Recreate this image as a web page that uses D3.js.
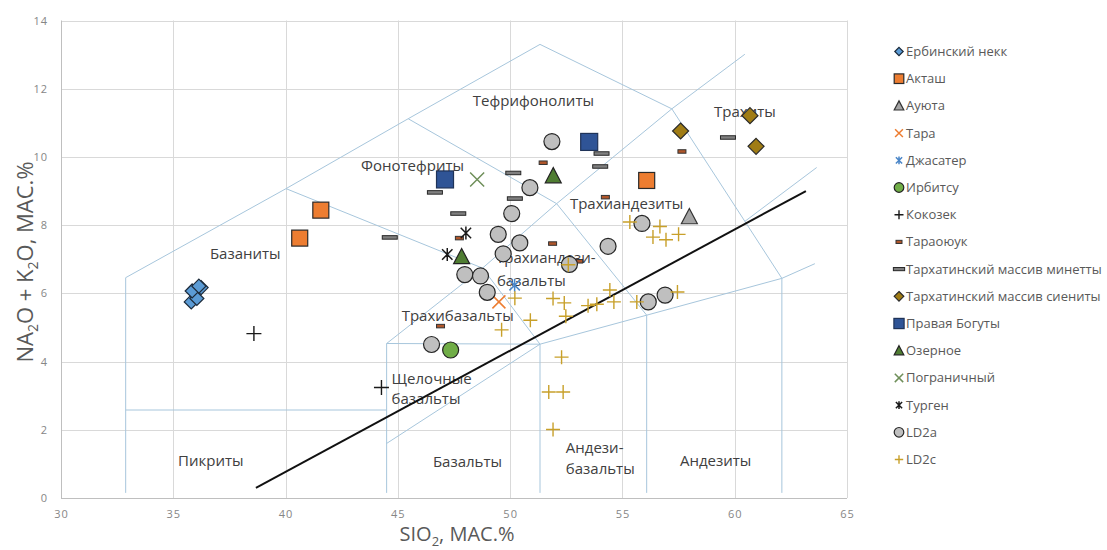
<!DOCTYPE html>
<html>
<head>
<meta charset="utf-8">
<script src="https://cdn.jsdelivr.net/npm/d3@7"></script>
<style>
  body { margin: 0; background: #fff; }
  svg { display: block; }
  text { font-family: 'Open Sans', 'Noto Sans', sans-serif; }
</style>
</head>
<body>
<svg id="chart" width="1107" height="550"></svg>
<script>
// ---- axis ticks ----
const xTicks = [30, 35, 40, 45, 50, 55, 60, 65];
const yTicks = [0, 2, 4, 6, 8, 10, 12, 14];

// ---- TAS classification field boundaries (SiO2, Na2O+K2O) ----
const fieldLines = [
  [[32.88, 0.15], [32.88, 6.46], [40.02, 9.07], [45.46, 11.12], [51.33, 13.30], [57.20, 11.41], [62.10, 6.44], [62.10, 0.15]],
  [[32.88, 2.58], [44.50, 2.58]],
  [[44.50, 0.15], [44.50, 4.53], [51.33, 4.51], [51.33, 0.15]],
  [[44.50, 1.60], [51.33, 4.51], [56.08, 5.36], [62.10, 6.44], [63.57, 6.87]],
  [[56.08, 0.15], [56.08, 5.36], [52.07, 8.63]],
  [[44.50, 4.53], [48.77, 6.74], [51.33, 4.51]],
  [[40.02, 9.07], [48.77, 6.74], [52.07, 8.63], [57.20, 11.41], [60.45, 13.01]],
  [[45.46, 11.12], [52.07, 8.63]],
  [[60.45, 8.11], [63.65, 9.69]]
];

// alkaline / subalkaline divide
const divideLine = [[38.68, 0.30], [63.17, 9.00]];

// field names: [text, SiO2, Na2O+K2O] (left edge, baseline)
const fieldLabels = [
  ["Тефрифонолиты", 48.34, 11.48],
  ["Фонотефриты", 43.36, 9.58],
  ["Трахиты", 59.08, 11.16],
  ["Базаниты", 36.63, 7.02],
  ["Трахиандезиты", 52.66, 8.48],
  ["Трахиандези-", 49.37, 6.88],
  ["базальты", 49.41, 6.21],
  ["Трахибазальты", 45.17, 5.18],
  ["Щелочные", 44.72, 3.35],
  ["базальты", 44.72, 2.77],
  ["Пикриты", 35.21, 0.94],
  ["Базальты", 46.56, 0.92],
  ["Андези-", 52.48, 1.32],
  ["базальты", 52.48, 0.70],
  ["Андезиты", 57.56, 0.94]
];

// ---- samples [SiO2, Na2O+K2O] ----
const erbinskyNeck = [[35.80, 5.75], [36.05, 5.85], [35.84, 6.07], [36.24, 6.17], [36.14, 6.21]];
const aktash = [[40.63, 7.62], [41.57, 8.44], [56.08, 9.31]];
const auyuta = [[57.98, 8.24]];
const tara = [[49.50, 5.75]];
const dzhasater = [[50.20, 6.24]];
const irbitsu = [[47.35, 4.34]];
const kokozek = [[38.59, 4.82], [44.27, 3.24]];
const taraoyuk = [[46.90, 5.04], [47.74, 7.62], [51.47, 9.83], [51.89, 7.46], [53.05, 6.94], [54.24, 8.82], [57.65, 10.16]];
const minettes = [[44.64, 7.64], [46.65, 8.96], [47.69, 8.34], [50.14, 9.53], [50.21, 8.78], [54.07, 10.10], [54.01, 9.72], [59.70, 10.57]];
const syenites = [[57.59, 10.76], [60.68, 11.21], [60.95, 10.31]];
const pravayaBoguty = [[47.10, 9.34], [53.52, 10.44]];
const ozernoe = [[51.92, 9.44], [47.84, 7.07]];
const pogranichny = [[48.53, 9.34]];
const turgen = [[47.20, 7.14], [48.03, 7.77]];
const ld2a = [
  [51.86, 10.45], [50.88, 9.10], [50.07, 8.34], [49.47, 7.73], [50.43, 7.48],
  [49.69, 7.16], [47.98, 6.55], [48.68, 6.51], [48.98, 6.03], [46.50, 4.50],
  [52.64, 6.85], [54.36, 7.38], [55.87, 8.05], [56.15, 5.75], [56.90, 5.95]
];
const ld2c = [
  [50.21, 5.86], [49.62, 4.93], [50.90, 5.21], [51.91, 5.85], [52.41, 5.72],
  [52.48, 5.33], [52.29, 4.13], [51.72, 3.11], [52.36, 3.11], [51.91, 2.01],
  [52.59, 6.84], [53.47, 5.64], [53.86, 5.68], [54.44, 6.10], [54.62, 5.75],
  [55.64, 5.75], [57.45, 6.04], [55.33, 8.09], [56.67, 7.96], [56.36, 7.65],
  [56.94, 7.57], [57.50, 7.73]
];

const seriesNames = [
  "Ербинский некк", "Акташ", "Ауюта", "Тара", "Джасатер", "Ирбитсу", "Кокозек",
  "Тараоюук", "Тархатинский массив минетты", "Тархатинский массив сиениты",
  "Правая Богуты", "Озерное", "Пограничный", "Турген", "LD2a", "LD2c"
];
const seriesData = [
  erbinskyNeck, aktash, auyuta, tara, dzhasater, irbitsu, kokozek, taraoyuk,
  minettes, syenites, pravayaBoguty, ozernoe, pogranichny, turgen, ld2a, ld2c
];

// marker look for each series (same order)
const seriesStyle = [
  { shape: "diamond", size: 14, fill: "#5b9bd5", stroke: "#1c2a3a" },
  { shape: "square", size: 16, fill: "#ed7d31", stroke: "#2a2a2a" },
  { shape: "triangle", size: 16, fill: "#a5a5a5", stroke: "#333" },
  { shape: "x", size: 13, fill: "none", stroke: "#ed7d31" },
  { shape: "asterisk", size: 13, fill: "none", stroke: "#4a86c8" },
  { shape: "circle", size: 16, fill: "#70ad47", stroke: "#222" },
  { shape: "plus", size: 15, fill: "none", stroke: "#1a1a1a" },
  { shape: "dash", size: 8, h: 3.5, fill: "#b0562a", stroke: "#333" },
  { shape: "dash", size: 15, h: 3.5, fill: "#808080", stroke: "#262626" },
  { shape: "diamond", size: 16, fill: "#a07c14", stroke: "#2a2a2a" },
  { shape: "square", size: 17, fill: "#2f5496", stroke: "#1f3358" },
  { shape: "triangle", size: 16, fill: "#4f7d32", stroke: "#222" },
  { shape: "x", size: 14, fill: "none", stroke: "#6f8f5a" },
  { shape: "asterisk", size: 13, fill: "none", stroke: "#1a1a1a" },
  { shape: "circle", size: 16, fill: "#bfbfbf", stroke: "#262626" },
  { shape: "plus", size: 14, fill: "none", stroke: "#c8a02a" }
];

// ---- layout ----
const svg = d3.select("#chart");
const x = d3.scaleLinear().domain([30, 65]).range([61, 847]);
const y = d3.scaleLinear().domain([0, 14]).range([498, 20.5]);

// gridlines
const grid = svg.append("g");
grid.selectAll("line.h").data(yTicks).join("line")
  .attr("x1", x(30)).attr("x2", x(65))
  .attr("y1", d => Math.round(y(d)) + 0.5).attr("y2", d => Math.round(y(d)) + 0.5)
  .attr("stroke", d => d === 0 ? "#bfbfbf" : "#d9d9d9").attr("stroke-width", 1);
grid.selectAll("line.v").data(xTicks).join("line")
  .attr("y1", y(0)).attr("y2", y(14))
  .attr("x1", d => Math.round(x(d)) + 0.5).attr("x2", d => Math.round(x(d)) + 0.5)
  .attr("stroke", d => d === 30 ? "#bfbfbf" : "#d9d9d9").attr("stroke-width", 1);

// axes (labels only)
const xAxis = d3.axisBottom(x).tickValues(xTicks).tickSize(0).tickPadding(12);
const yAxis = d3.axisLeft(y).tickValues(yTicks).tickSize(0).tickPadding(13);
const gx = svg.append("g").attr("transform", `translate(0,${y(0)})`).call(xAxis);
const gy = svg.append("g").attr("transform", `translate(${x(30)},0)`).call(yAxis);
[gx, gy].forEach(g => {
  g.select(".domain").remove();
  g.selectAll("text").attr("fill", "#868686").style("font-size", "11px")
    .style("letter-spacing", "1px").style("font-family", "'Open Sans', sans-serif");
});

// field boundaries
const line = d3.line().x(d => x(d[0])).y(d => y(d[1]));
svg.append("g").selectAll("path").data(fieldLines).join("path")
  .attr("d", line).attr("fill", "none")
  .attr("stroke", "#a7c6dc").attr("stroke-width", 1);

// field names
svg.append("g").selectAll("text").data(fieldLabels).join("text")
  .attr("x", d => x(d[1])).attr("y", d => y(d[2]))
  .text(d => d[0]).attr("fill", "#404040").style("font-size", "15px");

// divide line
svg.append("path").datum(divideLine).attr("d", line)
  .attr("fill", "none").attr("stroke", "#111").attr("stroke-width", 2);

// marker drawing
function marker(g, st, scale) {
  const s = st.size * scale;
  const a = s / 2;
  const sw = 1.2;
  switch (st.shape) {
    case "diamond":
      g.append("path").attr("d", `M0,${-a}L${a},0L0,${a}L${-a},0Z`)
        .attr("fill", st.fill).attr("stroke", st.stroke).attr("stroke-width", sw);
      break;
    case "square":
      g.append("rect").attr("x", -a).attr("y", -a).attr("width", s).attr("height", s)
        .attr("fill", st.fill).attr("stroke", st.stroke).attr("stroke-width", sw);
      break;
    case "triangle":
      g.append("path").attr("d", `M0,${-a * 1.05}L${a},${a * 0.85}L${-a},${a * 0.85}Z`)
        .attr("fill", st.fill).attr("stroke", st.stroke).attr("stroke-width", sw);
      break;
    case "circle":
      g.append("circle").attr("r", a)
        .attr("fill", st.fill).attr("stroke", st.stroke).attr("stroke-width", sw);
      break;
    case "x":
      g.append("path").attr("d", `M${-a},${-a}L${a},${a}M${-a},${a}L${a},${-a}`)
        .attr("fill", "none").attr("stroke", st.stroke).attr("stroke-width", 1.5);
      break;
    case "asterisk": {
      const b = a * 0.8;
      g.append("path").attr("d", `M${-b},${-b}L${b},${b}M${-b},${b}L${b},${-b}M0,${-a}L0,${a}`)
        .attr("fill", "none").attr("stroke", st.stroke).attr("stroke-width", 1.5);
      break;
    }
    case "plus":
      g.append("path").attr("d", `M${-a},0L${a},0M0,${-a}L0,${a}`)
        .attr("fill", "none").attr("stroke", st.stroke).attr("stroke-width", 1.4);
      break;
    case "dash": {
      const h = st.h * Math.max(scale, 0.9);
      g.append("rect").attr("x", -a).attr("y", -h / 2).attr("width", s).attr("height", h)
        .attr("fill", st.fill).attr("stroke", st.stroke).attr("stroke-width", 1);
      break;
    }
  }
}

// points
const pts = svg.append("g");
seriesData.forEach((data, i) => {
  const st = seriesStyle[i];
  data.forEach(d => {
    const g = pts.append("g").attr("transform", `translate(${x(d[0])},${y(d[1])})`);
    marker(g, st, 1);
  });
});

// legend
const legend = svg.append("g");
seriesNames.forEach((name, i) => {
  const row = legend.append("g").attr("transform", `translate(0,${51.5 + i * 27.2})`);
  const mg = row.append("g").attr("transform", "translate(899,0)");
  const st = seriesStyle[i];
  const sc = st.shape === "dash" ? 0.75 : 0.6;
  marker(mg, st, sc);
  row.append("text").attr("x", 906).attr("y", 0).attr("dy", "0.35em")
    .text(name).attr("fill", "#595959").style("font-size", "13px");
});

// axis titles
const xt = svg.append("text").attr("x", 457).attr("y", 541).attr("text-anchor", "middle")
  .attr("fill", "#595959").style("font-size", "20px");
xt.append("tspan").text("SIO");
xt.append("tspan").text("2").attr("dy", 5).style("font-size", "13px");
xt.append("tspan").text(", МАС.%").attr("dy", -5);

const yt = svg.append("text").attr("transform", "translate(33,262) rotate(-90)")
  .attr("text-anchor", "middle").attr("fill", "#595959").style("font-size", "22px");
yt.append("tspan").text("NA");
yt.append("tspan").text("2").attr("dy", 5).style("font-size", "14px");
yt.append("tspan").text("O + K").attr("dy", -5);
yt.append("tspan").text("2").attr("dy", 5).style("font-size", "14px");
yt.append("tspan").text("O, МАС.%").attr("dy", -5);
</script>
</body>
</html>
